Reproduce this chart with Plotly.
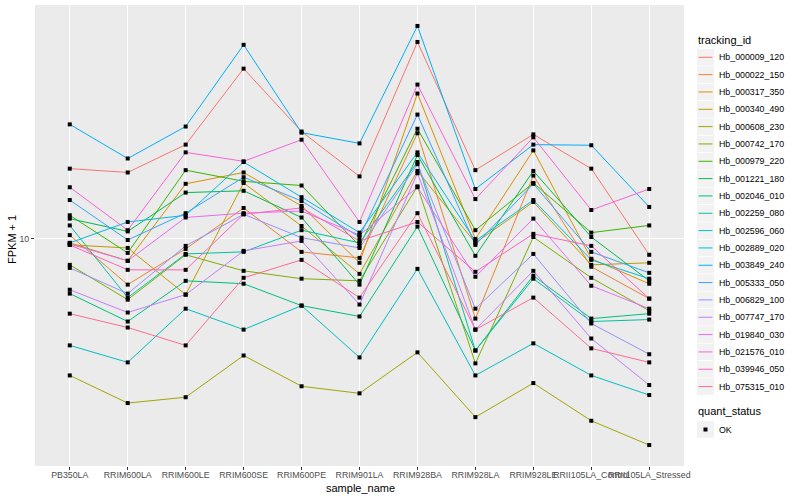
import plotly.graph_objects as go
import numpy as np

samples = ["PB350LA", "RRIM600LA", "RRIM600LE", "RRIM600SE", "RRIM600PE", "RRIM901LA",
           "RRIM928BA", "RRIM928LA", "RRIM928LE", "RRII105LA_Control", "RRII105LA_Stressed"]

tracking_ids = ["Hb_000009_120", "Hb_000022_150", "Hb_000317_350", "Hb_000340_490", "Hb_000608_230",
                "Hb_000742_170", "Hb_000979_220", "Hb_001221_180", "Hb_002046_010", "Hb_002259_080",
                "Hb_002596_060", "Hb_002889_020", "Hb_003849_240", "Hb_005333_050", "Hb_006829_100",
                "Hb_007747_170", "Hb_019840_030", "Hb_021576_010", "Hb_039946_050", "Hb_075315_010"]

# FPKM + 1 per sample, one list per tracking_id
hb_000009_120 = [17.2, 16.7, 20.7, 37.2, 22.9, 16.2, 45.7, 17.0, 22.4, 17.2, 8.85]
hb_000022_150 = [10.3, 7.03, 9.26, 12.7, 9.05, 8.64, 22.6, 5.41, 16.3, 8.07, 6.31]
hb_000317_350 = [9.70, 8.45, 15.3, 16.7, 12.9, 8.32, 30.7, 10.0, 19.8, 8.58, 7.08]
hb_000340_490 = [9.55, 9.33, 6.51, 15.4, 11.05, 7.64, 16.9, 9.70, 13.3, 8.19, 8.32]
hb_000608_230 = [3.49, 2.82, 2.95, 4.07, 3.21, 3.04, 4.17, 2.53, 3.29, 2.46, 2.04]
hb_000742_170 = [8.19, 6.26, 8.85, 7.82, 7.36, 7.24, 15.0, 3.83, 10.15, 7.41, 5.75]
hb_000979_220 = [12.0, 8.98, 17.0, 15.6, 15.1, 9.48, 23.4, 10.7, 15.4, 10.5, 11.1]
hb_001221_180 = [11.7, 10.6, 14.3, 14.5, 11.8, 7.03, 19.1, 8.78, 16.9, 10.15, 7.24]
hb_002046_010 = [6.56, 5.29, 7.24, 7.08, 5.98, 5.50, 11.0, 4.23, 7.53, 5.41, 5.62]
hb_002259_080 = [11.1, 6.36, 8.91, 9.05, 10.7, 9.70, 18.1, 4.23, 7.36, 5.29, 5.37]
hb_002596_060 = [4.40, 3.86, 5.84, 4.97, 5.98, 4.01, 7.94, 3.49, 4.47, 3.49, 3.00]
hb_002889_020 = [9.70, 11.4, 12.0, 18.1, 13.8, 10.5, 19.5, 9.85, 13.5, 8.51, 7.36]
hb_003849_240 = [24.2, 18.6, 23.8, 44.7, 22.7, 20.9, 51.7, 14.7, 20.7, 20.6, 12.8]
hb_005333_050 = [13.5, 9.92, 12.2, 16.1, 13.4, 10.15, 26.1, 9.55, 15.3, 9.05, 7.70]
hb_006829_100 = [8.00, 6.56, 9.48, 12.1, 10.1, 9.33, 17.8, 5.84, 8.91, 5.21, 4.11]
hb_007747_170 = [6.76, 5.67, 6.51, 9.12, 9.85, 6.03, 16.6, 4.97, 7.82, 4.64, 3.24]
hb_019840_030 = [9.62, 8.45, 11.8, 12.2, 12.4, 10.3, 14.9, 7.47, 11.7, 6.97, 5.84]
hb_021576_010 = [14.9, 10.7, 19.5, 18.2, 21.5, 11.4, 32.9, 13.6, 21.9, 12.5, 14.7]
hb_039946_050 = [9.55, 7.88, 7.88, 12.1, 12.7, 9.85, 11.4, 7.76, 10.4, 9.48, 6.31]
hb_075315_010 = [5.62, 5.05, 4.40, 7.41, 8.51, 6.36, 12.2, 4.97, 6.36, 4.30, 3.86]

series_values = [hb_000009_120, hb_000022_150, hb_000317_350, hb_000340_490, hb_000608_230,
                 hb_000742_170, hb_000979_220, hb_001221_180, hb_002046_010, hb_002259_080,
                 hb_002596_060, hb_002889_020, hb_003849_240, hb_005333_050, hb_006829_100,
                 hb_007747_170, hb_019840_030, hb_021576_010, hb_039946_050, hb_075315_010]

quant_status = "OK"

colors = ["#F8766D", "#EA8331", "#D89000", "#C09B00", "#A3A500", "#7CAE00", "#39B600", "#00BB4E",
          "#00BF7D", "#00C1A3", "#00BFC4", "#00BAE0", "#00B0F6", "#35A2FF", "#9590FF", "#C77CFF",
          "#E76BF3", "#FA62DB", "#FF62BC", "#FF6C91"]

FONT = "Liberation Sans, Arial, sans-serif"
W, H = 800, 500
ML, MR, MT, MB = 35, 116, 5, 34
PW, PH = W - ML - MR, H - MT - MB


def px(x):
    return (x - ML) / PW


def py(y):
    return (H - MB - y) / PH


fig = go.Figure()
for name, vals, col in zip(tracking_ids, series_values, colors):
    fig.add_trace(go.Scatter(x=samples, y=vals, mode="lines", name=name,
                             line=dict(color=col, width=1), showlegend=False,
                             hoverinfo="skip"))

all_x = [s for vals in series_values for s in samples]
all_y = [v for vals in series_values for v in vals]
fig.add_trace(go.Scatter(x=all_x, y=all_y, mode="markers", name=quant_status,
                         marker=dict(symbol="square", size=4, color="black"),
                         showlegend=False))

logs = np.log10(all_y)
lo, hi = logs.min(), logs.max()
pad = 0.05 * (hi - lo)

# ggplot-style legends (drawn in paper space)
shapes, annotations = [], []
key_x0, key_x1 = 697, 714
text_x = 717
first_c, step = 57.3, 17.33
annotations.append(dict(text="tracking_id", x=px(696), y=py(40), xref="paper", yref="paper",
                        xanchor="left", yanchor="middle", showarrow=False,
                        font=dict(size=11, color="black", family=FONT)))
for i, (name, col) in enumerate(zip(tracking_ids, colors)):
    c = first_c + i * step
    shapes.append(dict(type="rect", xref="paper", yref="paper",
                       x0=px(key_x0), x1=px(key_x1), y0=py(c - 8.3), y1=py(c + 8.3),
                       fillcolor="#F2F2F2", line=dict(width=0), layer="below"))
    shapes.append(dict(type="line", xref="paper", yref="paper",
                       x0=px(key_x0 + 1.5), x1=px(key_x1 - 1.5), y0=py(c), y1=py(c),
                       line=dict(color=col, width=1)))
    annotations.append(dict(text=name, x=px(text_x), y=py(c), xref="paper", yref="paper",
                            xanchor="left", yanchor="middle", showarrow=False,
                            font=dict(size=8.8, color="black", family=FONT)))

annotations.append(dict(text="quant_status", x=px(696), y=py(411), xref="paper", yref="paper",
                        xanchor="left", yanchor="middle", showarrow=False,
                        font=dict(size=11, color="black", family=FONT)))
c = 429.5
shapes.append(dict(type="rect", xref="paper", yref="paper",
                   x0=px(key_x0), x1=px(key_x1), y0=py(c - 8.3), y1=py(c + 8.3),
                   fillcolor="#F2F2F2", line=dict(width=0), layer="below"))
shapes.append(dict(type="rect", xref="paper", yref="paper",
                   x0=px(703.5), x1=px(707.5), y0=py(c - 2), y1=py(c + 2),
                   fillcolor="black", line=dict(width=0)))
annotations.append(dict(text=quant_status, x=px(text_x), y=py(c), xref="paper", yref="paper",
                        xanchor="left", yanchor="middle", showarrow=False,
                        font=dict(size=8.8, color="black", family=FONT)))

# axis titles
annotations.append(dict(text="sample_name", x=px(360), y=py(488), xref="paper", yref="paper",
                        xanchor="center", yanchor="middle", showarrow=False,
                        font=dict(size=11, color="black", family=FONT)))
annotations.append(dict(text="FPKM + 1", x=px(12), y=py(240), xref="paper", yref="paper",
                        xanchor="center", yanchor="middle", showarrow=False, textangle=-90,
                        font=dict(size=11, color="black", family=FONT)))

fig.update_layout(
    width=W, height=H,
    margin=dict(l=ML, r=MR, t=MT, b=MB),
    paper_bgcolor="white", plot_bgcolor="#EBEBEB",
    font=dict(family=FONT, size=9, color="black"),
    xaxis=dict(type="category", categoryorder="array", categoryarray=samples,
               range=[-0.6, len(samples) - 0.4], tickangle=0, automargin=False,
               showgrid=True, gridcolor="white", gridwidth=1.1,
               ticks="outside", ticklen=3, tickcolor="#333333",
               ticklabelstandoff=-3,
               tickfont=dict(size=8.8, color="#4D4D4D", family=FONT),
               zeroline=False, showline=False),
    yaxis=dict(type="log", range=[lo - pad, hi + pad], automargin=False,
               tickvals=[10], ticktext=["10"],
               showgrid=True, gridcolor="white", gridwidth=1.1,
               ticks="outside", ticklen=3, tickcolor="#333333",
               tickfont=dict(size=8.8, color="#4D4D4D", family=FONT),
               zeroline=False, showline=False, minor=dict(showgrid=False)),
    shapes=shapes, annotations=annotations,
    showlegend=False,
)

fig.write_html("out.html", config={"displayModeBar": False},
               post_script="document.body.style.margin='0px';document.body.style.overflow='hidden';")
